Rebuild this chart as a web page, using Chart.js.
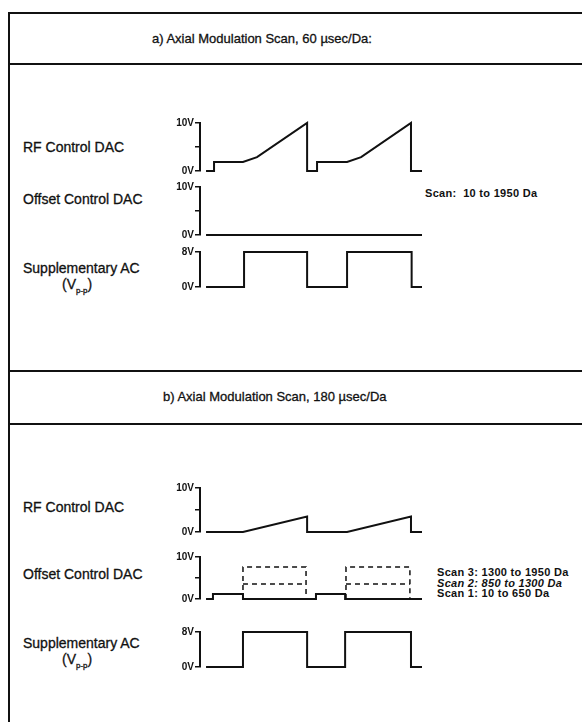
<!DOCTYPE html>
<html>
<head>
<meta charset="utf-8">
<script src="https://cdn.jsdelivr.net/npm/chart.js@4"></script>
<style>
  html, body { margin:0; padding:0; background:#fff; }
  body { width:582px; height:722px; position:relative; overflow:hidden; font-family:"Liberation Sans", Arial, sans-serif; color:#111; }
  .line { position:absolute; background:#111; }
  .txt { position:absolute; white-space:nowrap; line-height:1; transform:translateY(-50%); }
  .lab { font-size:14px; -webkit-text-stroke:0.3px #111; }
  .title { font-size:13px; -webkit-text-stroke:0.3px #111; }
  .scan { font-size:11px; font-weight:bold; letter-spacing:0.3px; }
  canvas { position:absolute; }
</style>
</head>
<body>
<div class="line" style="left:8px;top:12px;width:2px;height:710px"></div>
<div class="line" style="left:8px;top:12px;width:574px;height:2px"></div>
<div class="line" style="left:8px;top:63px;width:574px;height:2px"></div>
<div class="line" style="left:8px;top:370px;width:574px;height:2px"></div>
<div class="line" style="left:8px;top:423px;width:574px;height:2px"></div>

<div class="txt title" style="left:152px;top:38px">a) Axial Modulation Scan, 60 µsec/Da:</div>
<div class="txt title" style="left:163px;top:396px">b) Axial Modulation Scan, 180 µsec/Da</div>

<div class="txt lab" style="left:23px;top:147px">RF Control DAC</div>
<div class="txt lab" style="left:23px;top:199px">Offset Control DAC</div>
<div class="txt lab" style="left:23px;top:268px">Supplementary AC</div>
<div class="txt lab" style="left:62px;top:286px">(V<sub style="font-size:8px">p-p</sub>)</div>
<div class="txt scan" style="left:425px;top:193px">Scan:&nbsp; 10 to 1950 Da</div>

<div class="txt lab" style="left:23px;top:507px">RF Control DAC</div>
<div class="txt lab" style="left:23px;top:574px">Offset Control DAC</div>
<div class="txt lab" style="left:23px;top:643px">Supplementary AC</div>
<div class="txt lab" style="left:62px;top:661px">(V<sub style="font-size:8px">p-p</sub>)</div>
<div class="txt scan" style="left:437px;top:572px">Scan 3: 1300 to 1950 Da</div>
<div class="txt scan" style="left:437px;top:582.5px;font-style:italic">Scan 2: 850 to 1300 Da</div>
<div class="txt scan" style="left:437px;top:593px">Scan 1: 10 to 650 Da</div>

<canvas id="aRF"></canvas>
<canvas id="aOff"></canvas>
<canvas id="aSAC"></canvas>
<canvas id="bRF"></canvas>
<canvas id="bOff"></canvas>
<canvas id="bSAC"></canvas>

<script>
// ---- data (time in arbitrary units 0..100, voltage in V) ----
const aRF_t   = [0, 3.7, 3.7, 17.1, 23.6, 46.8, 46.8, 51.4, 51.4, 65.3, 71.8, 94.9, 94.9, 100];
const aRF_v   = [0, 0,   1.9, 1.9,  2.9,  10,   0,    0,    1.9,  1.9,  2.9,  10,   0,    0];
const aOff_t  = [0, 100];
const aOff_v  = [0, 0];
const aSAC_t  = [0, 17.6, 17.6, 46.8, 46.8, 65.3, 65.3, 95.2, 95.2, 100];
const aSAC_v  = [0, 0,    8,    8,    0,    0,    8,    8,    0,    0];

const bRF_t   = [0, 17.1, 46.8, 46.8, 65.3, 94.9, 94.9, 100];
const bRF_v   = [0, 0,    3.5,  0,    0,    3.5,  0,    0];
const bScan1_t = [0, 3.2, 3.2, 17.1, 17.1, 50.9, 50.9, 64.4, 64.4, 100];
const bScan1_v = [0, 0,   1.2, 1.2,  0,    0,    1.2,  1.2,  0,    0];
const bScan2_t = [17.1, 46.3, 46.3, 64.8, 94.4];
const bScan2_v = [3.6,  3.6,  null, 3.6,  3.6];
const bScan3_t = [17.1, 17.1, 46.3, 46.3, 46.3, 64.8, 64.8, 94.4, 94.4];
const bScan3_v = [0,    7.6,  7.6,  0,    null, 0,    7.6,  7.6,  0];
const bSAC_t  = [0, 17.1, 17.1, 46.8, 46.8, 64.4, 64.4, 94.9, 94.9, 100];
const bSAC_v  = [0, 0,    8,    8,    0,    0,    8,    8,    0,    0];

const tickLabels10 = {0: '0V', 10: '10V'};
const tickLabels8  = {0: '0V', 8: '8V'};

// ---- helpers ----
const INK = '#111';
const pts = (t, v) => t.map((x, i) => ({x: x, y: v[i]}));

function make(id, topPx, bottomPx, max, step, labels, datasets) {
  const padT = 8, padB = 8, axisW = 50;
  const c = document.getElementById(id);
  const w = 277;
  const h = (bottomPx - topPx) + padT + padB;
  c.width = w; c.height = h;
  c.style.left = '150px';
  c.style.top = (topPx - padT) + 'px';
  c.style.width = w + 'px'; c.style.height = h + 'px';
  new Chart(c, {
    type: 'line',
    data: { datasets: datasets },
    options: {
      responsive: false, animation: false, devicePixelRatio: 1,
      layout: { padding: { top: padT, bottom: padB, right: 5, left: 0 } },
      plugins: { legend: { display: false }, tooltip: { enabled: false } },
      elements: { point: { radius: 0 }, line: { tension: 0 } },
      scales: {
        x: { type: 'linear', min: -2.8, max: 100, display: false },
        y: {
          min: 0, max: max,
          afterFit: s => { s.width = axisW; },
          ticks: { stepSize: step, padding: 1, color: INK,
                   font: { family: '"Liberation Sans", Arial, sans-serif', size: 10, weight: 'bold' },
                   callback: v => labels[v] !== undefined ? labels[v] : '' },
          grid: { drawOnChartArea: false, drawTicks: true, tickLength: 5, color: INK, lineWidth: 1.5 },
          border: { display: true, color: INK, width: 2 }
        }
      }
    }
  });
}

const solid = (t, v) => ({ data: pts(t, v), borderColor: INK, borderWidth: 2, clip: false, spanGaps: false });
const dashed = (t, v) => ({ data: pts(t, v), borderColor: INK, borderWidth: 1.5, borderDash: [5, 4], clip: false, spanGaps: false });

make('aRF', 123, 171, 10, 5, tickLabels10, [solid(aRF_t, aRF_v)]);
make('aOff', 187, 235, 10, 5, tickLabels10, [solid(aOff_t, aOff_v)]);
make('aSAC', 252, 287, 8, 8, tickLabels8, [solid(aSAC_t, aSAC_v)]);

make('bRF', 488, 532, 10, 5, tickLabels10, [solid(bRF_t, bRF_v)]);
make('bOff', 557, 599, 10, 5, tickLabels10, [dashed(bScan3_t, bScan3_v), dashed(bScan2_t, bScan2_v), solid(bScan1_t, bScan1_v)]);
make('bSAC', 632, 667, 8, 8, tickLabels8, [solid(bSAC_t, bSAC_v)]);
</script>
</body>
</html>
